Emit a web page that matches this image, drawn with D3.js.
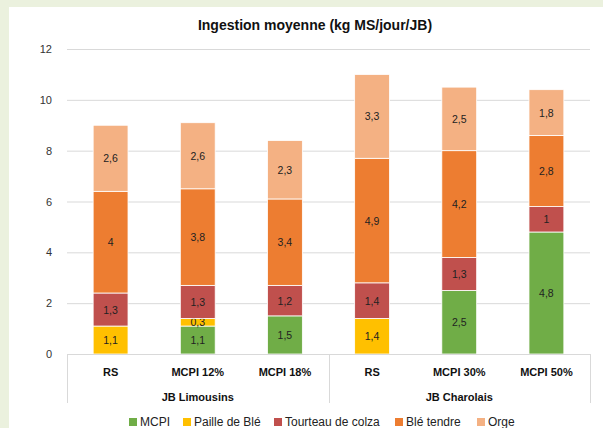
<!DOCTYPE html>
<html>
<head>
<meta charset="utf-8">
<script src="https://d3js.org/d3.v7.min.js"></script>
<style>
  body { margin: 0; background: #ebf1de; }
  svg { display: block; font-family: "Liberation Sans", Arial, sans-serif; }
  .grid line { stroke: #d9d9d9; stroke-width: 1; }
  .ytick text { font-size: 11px; fill: #333; }
</style>
</head>
<body>
<div id="chart"></div>
<script>
// data
var categories = ["RS", "MCPI 12%", "MCPI 18%", "RS", "MCPI 30%", "MCPI 50%"];
var groups = ["JB Limousins", "JB Charolais"];
var seriesNames = ["MCPI", "Paille de Blé", "Tourteau de colza", "Blé tendre", "Orge"];
var mcpi     = [0, 1.1, 1.5, 0, 2.5, 4.8];
var paille   = [1.1, 0.3, 0, 1.4, 0, 0];
var tourteau = [1.3, 1.3, 1.2, 1.4, 1.3, 1];
var ble      = [4, 3.8, 3.4, 4.9, 4.2, 2.8];
var orge     = [2.6, 2.6, 2.3, 3.3, 2.5, 1.8];
var yTicks   = [0, 2, 4, 6, 8, 10, 12];

var colors = ["#70ad47", "#ffc000", "#c0504d", "#ed7d31", "#f4b183"];
var seriesData = [mcpi, paille, tourteau, ble, orge];

var width = 603, height = 428;
var svg = d3.select("#chart").append("svg")
    .attr("width", width).attr("height", height);

// white card
svg.append("rect").attr("x", 9).attr("y", 7)
    .attr("width", width - 9).attr("height", height - 7)
    .attr("fill", "#fff");

var x0 = 67, x1 = 590, yTop = 49, yBot = 354;

var x = d3.scaleBand().domain(d3.range(categories.length))
    .range([x0, x1]).paddingInner(0.6).paddingOuter(0.3);
var y = d3.scaleLinear().domain([0, 12]).range([yBot, yTop]);

// title
svg.append("text").attr("x", 315).attr("y", 30)
    .attr("text-anchor", "middle")
    .style("font-size", "14px").style("font-weight", "bold").attr("fill", "#111")
    .text("Ingestion moyenne (kg MS/jour/JB)");

// grid + y labels
var g = svg.append("g").attr("class", "grid");
g.selectAll("line").data(yTicks.filter(function(d) { return d > 0; })).enter()
    .append("line")
    .attr("x1", x0).attr("x2", x1)
    .attr("y1", function(d) { return y(d) + 0.5; })
    .attr("y2", function(d) { return y(d) + 0.5; });

svg.append("g").attr("class", "ytick").selectAll("text").data(yTicks).enter()
    .append("text")
    .attr("x", 52).attr("y", function(d) { return y(d) + 4; })
    .attr("text-anchor", "end")
    .text(function(d) { return d; });

// stack
var rows = categories.map(function(c, i) {
    var r = { i: i };
    seriesNames.forEach(function(s, k) { r[s] = seriesData[k][i]; });
    return r;
});
var stacked = d3.stack().keys(seriesNames)(rows);

var fmt = function(v) { return String(v).replace(".", ","); };

var layers = svg.selectAll(".layer").data(stacked).enter()
    .append("g").attr("class", "layer")
    .attr("fill", function(d, k) { return colors[k]; });

layers.selectAll("rect").data(function(d) { return d.filter(function(p) { return p[1] - p[0] > 0; }); })
    .enter().append("rect")
    .attr("x", function(d) { return x(d.data.i); })
    .attr("width", x.bandwidth())
    .attr("y", function(d) { return y(d[1]); })
    .attr("height", function(d) { return y(d[0]) - y(d[1]); })
    .attr("stroke", "#fff").attr("stroke-width", 0.8);

layers.selectAll("text").data(function(d) { return d.filter(function(p) { return p[1] - p[0] > 0; }); })
    .enter().append("text")
    .attr("x", function(d) { return x(d.data.i) + x.bandwidth() / 2; })
    .attr("y", function(d) { return (y(d[0]) + y(d[1])) / 2 + 4; })
    .attr("text-anchor", "middle")
    .attr("fill", "#222").style("font-size", "10.5px")
    .text(function(d) { return fmt(+(d[1] - d[0]).toFixed(1)); });

// x axis (multi-level)
var axisCol = "#d9d9d9";
svg.append("line").attr("x1", x0).attr("x2", x1)
    .attr("y1", yBot + 0.5).attr("y2", yBot + 0.5).attr("stroke", axisCol);
var mid = (x0 + x1) / 2;
[x0, mid, x1].forEach(function(px) {
    svg.append("line").attr("x1", Math.round(px) + 0.5).attr("x2", Math.round(px) + 0.5)
        .attr("y1", yBot).attr("y2", 403).attr("stroke", axisCol);
});

svg.selectAll(".cat").data(categories).enter()
    .append("text").attr("class", "cat")
    .attr("x", function(d, i) { return x(i) + x.bandwidth() / 2; })
    .attr("y", 376)
    .attr("text-anchor", "middle")
    .style("font-size", "11px").style("font-weight", "bold").attr("fill", "#111")
    .text(function(d) { return d; });

svg.selectAll(".grp").data(groups).enter()
    .append("text").attr("class", "grp")
    .attr("x", function(d, i) { return i === 0 ? (x0 + mid) / 2 : (mid + x1) / 2; })
    .attr("y", 401)
    .attr("text-anchor", "middle")
    .style("font-size", "11px").style("font-weight", "bold").attr("fill", "#111")
    .text(function(d) { return d; });

// legend
var legendX = [129, 183, 274, 395, 477];
var leg = svg.selectAll(".leg").data(seriesNames).enter()
    .append("g").attr("class", "leg")
    .attr("transform", function(d, k) { return "translate(" + legendX[k] + ",418)"; });
leg.append("rect").attr("width", 8).attr("height", 8)
    .attr("fill", function(d, k) { return colors[k]; });
leg.append("text").attr("x", 11).attr("y", 8)
    .style("font-size", "12px").attr("fill", "#222")
    .text(function(d) { return d; });
</script>
</body>
</html>
